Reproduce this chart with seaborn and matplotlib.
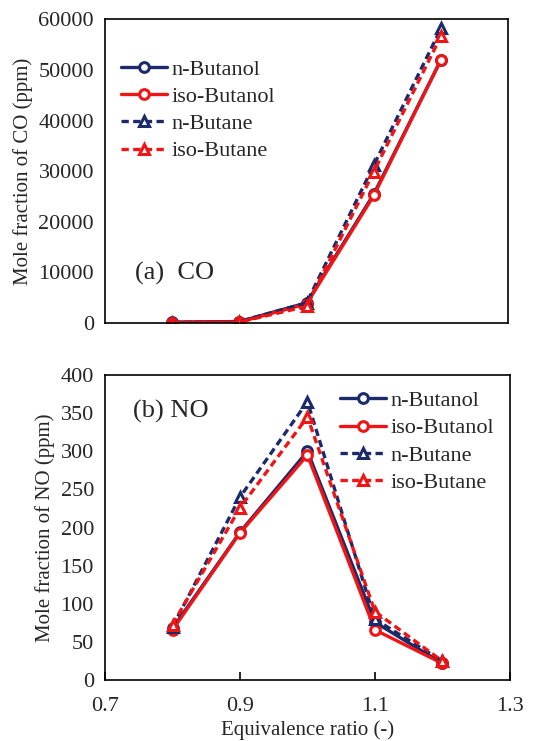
import matplotlib
matplotlib.use("Agg")
import matplotlib.pyplot as plt
import seaborn as sns
import pandas as pd

sns.set_theme(style="white")
plt.rcParams['font.family'] = ['Liberation Serif', 'DejaVu Serif']

phi = [0.8, 0.9, 1.0, 1.1, 1.2]
series = ["n-Butanol", "iso-Butanol", "n-Butane", "iso-Butane"]
co_n_butanol = [200, 300, 4000, 25500, 52000]
co_iso_butanol = [100, 200, 3800, 25200, 52000]
co_n_butane = [100, 300, 4000, 31200, 58200]
co_iso_butane = [100, 200, 3300, 29900, 56700]
no_n_butanol = [68, 194, 300, 76, 22]
no_iso_butanol = [66, 193, 295, 66, 22]
no_n_butane = [70, 240, 365, 80, 25]
no_iso_butane = [73, 226, 345, 90, 25]

navy = "#1b2a6b"
red = "#f01414"
styles = {
    "n-Butanol": dict(color=navy, ls="-", marker="o"),
    "iso-Butanol": dict(color=red, ls="-", marker="o"),
    "n-Butane": dict(color=navy, ls=(0, (2.2, 1.3)), marker="^"),
    "iso-Butane": dict(color=red, ls=(0, (2.2, 1.3)), marker="^"),
}

co = {"n-Butanol": co_n_butanol, "iso-Butanol": co_iso_butanol,
      "n-Butane": co_n_butane, "iso-Butane": co_iso_butane}
no = {"n-Butanol": no_n_butanol, "iso-Butanol": no_iso_butanol,
      "n-Butane": no_n_butane, "iso-Butane": no_iso_butane}

fig = plt.figure(figsize=(5.53, 7.41), dpi=100)
ax1 = fig.add_axes([0.190, 0.564, 0.729, 0.410])
ax2 = fig.add_axes([0.190, 0.082, 0.732, 0.412])

def draw(ax, data):
    for s in series:
        df = pd.DataFrame({"phi": phi, "val": data[s]})
        st = styles[s]
        sns.lineplot(data=df, x="phi", y="val", ax=ax, color=st["color"],
                     linestyle=st["ls"], marker=st["marker"], markersize=7,
                     markerfacecolor="white", markeredgecolor=st["color"],
                     markeredgewidth=2.2, linewidth=2.4, label=s)
    for sp in ax.spines.values():
        sp.set_color("black")
        sp.set_linewidth(1.2)
    ax.set_xlim(0.7, 1.3)
    ax.set_xlabel("")

draw(ax1, co)
draw(ax2, no)

fs = 16
ax1.set_ylim(0, 60000)
ax1.set_yticks([0, 10000, 20000, 30000, 40000, 50000, 60000])
ax1.set_xticks([])
ax1.tick_params(axis="y", labelsize=fs, length=0, pad=8)
ax1.set_ylabel("Mole fraction of CO (ppm)", fontsize=15, labelpad=4)
ax1.text(0.075, 0.164, "(a)  CO", transform=ax1.transAxes, fontsize=19,
         va="center")
ax1.legend(loc="upper left", bbox_to_anchor=(0.0, 0.92), frameon=False,
           fontsize=fs, handlelength=2.1, handletextpad=0.2, labelspacing=0.3,
           borderaxespad=0.3)

ax2.set_ylim(0, 400)
ax2.set_yticks([0, 50, 100, 150, 200, 250, 300, 350, 400])
ax2.set_xticks([0.7, 0.9, 1.1, 1.3])
ax2.set_xticklabels(["0.7", "0.9", "1.1", "1.3"])
ax2.tick_params(axis="y", labelsize=fs, length=0, pad=8)
ax2.tick_params(axis="x", labelsize=fs, direction="in", length=6, width=1.2,
                color="black", pad=12, bottom=True)
ax2.set_ylabel("Mole fraction of NO (ppm)", fontsize=15, labelpad=4)
ax2.set_xlabel("")
fig.text(0.5 * (0.190 + 0.922), 1 - 730 / 741, "Equivalence ratio (-)",
         fontsize=15, ha="center", va="center")
ax2.text(0.07, 0.88, "(b) NO", transform=ax2.transAxes, fontsize=19,
         va="center")
ax2.legend(loc="upper right", frameon=False, fontsize=fs, handlelength=2.1,
           handletextpad=0.2, labelspacing=0.3, borderaxespad=0.3,
           bbox_to_anchor=(1.0, 1.0))

fig.savefig("out.png", dpi=100)
